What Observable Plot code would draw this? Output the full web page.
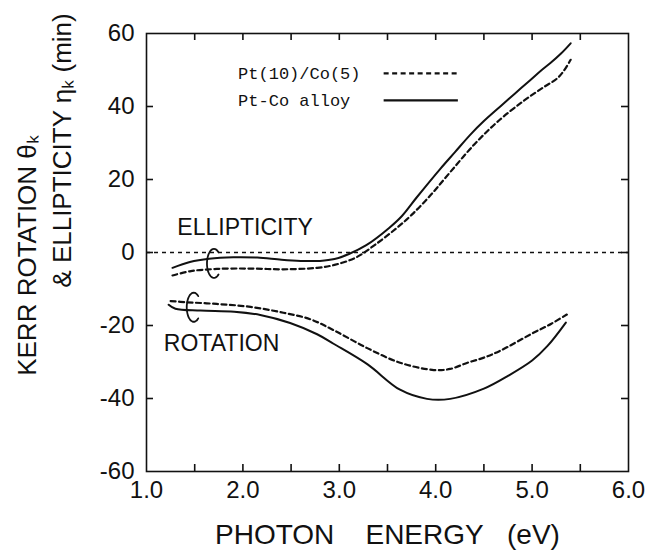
<!DOCTYPE html>
<html><head><meta charset="utf-8">
<script src="https://cdn.jsdelivr.net/npm/d3@7"></script>
<script src="https://cdn.jsdelivr.net/npm/@observablehq/plot@0.6"></script>
<style>body{margin:0;background:#fff}</style>
</head><body><div id="chart"></div>
<script>
// Axis ticks
const xLabelTicks = [1, 2, 3, 4, 5, 6];
const xMinorTicks = [1.5, 2, 2.5, 3, 3.5, 4, 4.5, 5, 5.5];
const yTicks = [-60, -40, -20, 0, 20, 40, 60];
const yInnerTicks = [-40, -20, 0, 20, 40];

// Series names
const seriesNames = ["Pt(10)/Co(5)", "Pt-Co alloy"];

// Ellipticity (min)
const ellipPtCoE = [1.27,1.46,1.73,2.08,2.42,2.77,2.95,3.17,3.38,3.6,3.75,3.95,4.15,4.4,4.64,4.91,5.12,5.26,5.33,5.4];
const ellipPtCoV = [-6.3,-5.1,-4.5,-4.4,-4.6,-4.2,-3.4,-1.4,2.3,6.8,10.3,15.8,22.0,29.6,35.8,41.5,45.3,47.7,49.8,52.8];
const ellipAlloyE = [1.27,1.45,1.65,1.9,2.15,2.4,2.6,2.8,2.95,3.1,3.28,3.52,3.65,3.8,4.05,4.2,4.36,4.5,4.67,4.82,4.98,5.1,5.19,5.3,5.4];
const ellipAlloyV = [-4.2,-2.6,-1.7,-1.3,-1.4,-2.0,-2.3,-2.3,-1.8,-0.4,2.0,6.8,10,15,23,27.5,32.3,36,40,43.5,47.2,50,51.9,54.5,57.3];

// Rotation (min)
const rotPtCoE = [1.25,1.4,1.73,2.08,2.42,2.7,2.95,3.29,3.63,3.98,4.15,4.33,4.5,4.67,5.0,5.2,5.36];
const rotPtCoV = [-13.3,-13.6,-14.1,-14.9,-16.5,-18.3,-21.4,-26.2,-30.2,-32.2,-31.9,-30.2,-28.8,-26.9,-22.2,-19.5,-17.0];
const rotAlloyE = [1.23,1.3,1.56,1.91,2.18,2.49,2.77,2.94,3.29,3.63,3.91,4.15,4.5,4.75,5.0,5.16,5.35];
const rotAlloyV = [-14.3,-15.4,-15.9,-16.2,-17.1,-19.3,-22.4,-25.0,-30.6,-37.6,-40.1,-40.1,-37.3,-33.8,-29.6,-25.6,-19.2];

// Annotation labels
const curveLabels = ["ELLIPTICITY", "ROTATION"];
const curveLabelE = [1.32, 1.18];
const curveLabelV = [6.8, -25.1];

// Bracket centres (energy, value) for ellipticity & rotation pairs
const bracketE = [1.70, 1.49];
const bracketV = [-3.0, -15.0];

// Legend
const legendTextE = 1.95;
const legendLineE1 = 3.46, legendLineE2 = 4.23;
const legendV = [49.1, 41.7];

const rows = (E, V, series) => E.map((e, i) => ({e, v: V[i], series}));
const ellipPtCo = rows(ellipPtCoE, ellipPtCoV, seriesNames[0]);
const ellipAlloy = rows(ellipAlloyE, ellipAlloyV, seriesNames[1]);
const rotPtCo = rows(rotPtCoE, rotPtCoV, seriesNames[0]);
const rotAlloy = rows(rotAlloyE, rotAlloyV, seriesNames[1]);

// layout
const W = 663, H = 555, mL = 146, mR = 35, mT = 33, mB = 84;
const frameW = W - mL - mR, frameH = H - mT - mB;
const xDom = [1, 6], yDom = [-60, 60];
const pxPerE = frameW / (xDom[1] - xDom[0]), pxPerV = frameH / (yDom[1] - yDom[0]);
const tick = 7;
const tx = tick / pxPerE, ty = tick / pxPerV;

// bracket arcs ("C" shapes) - annotation geometry, not data
const brackets = [];
bracketE.forEach((ce, k) => {
  for (let a = 50; a <= 310; a += 10) {
    const t = a * Math.PI / 180;
    brackets.push({k, e: ce + Math.cos(t) * 7 / pxPerE, v: bracketV[k] + Math.sin(t) * 14.5 / pxPerV});
  }
});

const ink = "#111";
const dash = "5,3.5";

const chart = Plot.plot({
  width: W, height: H,
  marginLeft: mL, marginRight: mR, marginTop: mT, marginBottom: mB,
  x: {domain: xDom},
  y: {domain: yDom},
  style: {fontFamily: "'Liberation Sans', Arial, sans-serif", fontSize: "24px", color: ink, background: "#fff"},
  marks: [
    Plot.frame({stroke: ink, strokeWidth: 1.6}),
    // inward ticks on all four sides
    Plot.ruleX(xMinorTicks, {x: d => d, y1: yDom[0], y2: yDom[0] + ty, stroke: ink, strokeWidth: 1.6}),
    Plot.ruleX(xMinorTicks, {x: d => d, y1: yDom[1], y2: yDom[1] - ty, stroke: ink, strokeWidth: 1.6}),
    Plot.ruleY(yInnerTicks, {y: d => d, x1: xDom[0], x2: xDom[0] + tx, stroke: ink, strokeWidth: 1.6}),
    Plot.ruleY(yInnerTicks, {y: d => d, x1: xDom[1], x2: xDom[1] - tx, stroke: ink, strokeWidth: 1.6}),
    // tick labels
    Plot.axisX({ticks: xLabelTicks, tickSize: 0, tickPadding: 9, tickFormat: d => d.toFixed(1), label: null, fontSize: 24}),
    Plot.axisY({ticks: yTicks, tickSize: 0, tickPadding: 12, tickFormat: d => String(d), label: null, fontSize: 24}),
    // zero reference line
    Plot.ruleY([0], {x1: xDom[0], x2: xDom[1], stroke: ink, strokeWidth: 1.3, strokeDasharray: "4,4"}),
    // curves
    Plot.line(ellipPtCo, {x: "e", y: "v", curve: "catmull-rom", stroke: ink, strokeWidth: 2.2, strokeDasharray: dash}),
    Plot.line(rotPtCo, {x: "e", y: "v", curve: "catmull-rom", stroke: ink, strokeWidth: 2.2, strokeDasharray: dash}),
    Plot.line(ellipAlloy, {x: "e", y: "v", curve: "catmull-rom", stroke: ink, strokeWidth: 2}),
    Plot.line(rotAlloy, {x: "e", y: "v", curve: "catmull-rom", stroke: ink, strokeWidth: 2}),
    // brackets
    Plot.line(brackets, {x: "e", y: "v", z: "k", curve: "catmull-rom", stroke: ink, strokeWidth: 1.8}),
    // curve labels
    Plot.text(curveLabels, {x: (d, i) => curveLabelE[i], y: (d, i) => curveLabelV[i], text: d => d, textAnchor: "start", fontSize: 23, fill: ink}),
    // legend
    Plot.text(seriesNames, {x: () => legendTextE, y: (d, i) => legendV[i], text: d => d, textAnchor: "start", fontSize: 17, fontFamily: "'Liberation Mono', 'DejaVu Sans Mono', monospace", fill: ink}),
    Plot.link([seriesNames[0]], {x1: () => legendLineE1, x2: () => legendLineE2, y1: () => legendV[0], y2: () => legendV[0], stroke: ink, strokeWidth: 2.2, strokeDasharray: dash}),
    Plot.link([seriesNames[1]], {x1: () => legendLineE1, x2: () => legendLineE2, y1: () => legendV[1], y2: () => legendV[1], stroke: ink, strokeWidth: 2.2}),
    // axis titles
    Plot.text(["KERR ROTATION \u03B8\u2096"], {frameAnchor: "left", dx: -119, dy: 3, rotate: -90, textAnchor: "middle", text: d => d, fontSize: 26, fill: ink}),
    Plot.text(["& ELLIPTICITY \u03B7\u2096 (min)"], {frameAnchor: "left", dx: -84, dy: -102, rotate: -90, textAnchor: "middle", text: d => d, fontSize: 26, fill: ink}),
    Plot.text(["PHOTON\u00A0\u00A0\u00A0\u00A0ENERGY\u00A0\u00A0\u00A0(eV)"], {frameAnchor: "bottom", dy: 72, text: d => d, fontSize: 28, fill: ink})
  ]
});
document.getElementById("chart").appendChild(chart);
</script>
</body></html>
